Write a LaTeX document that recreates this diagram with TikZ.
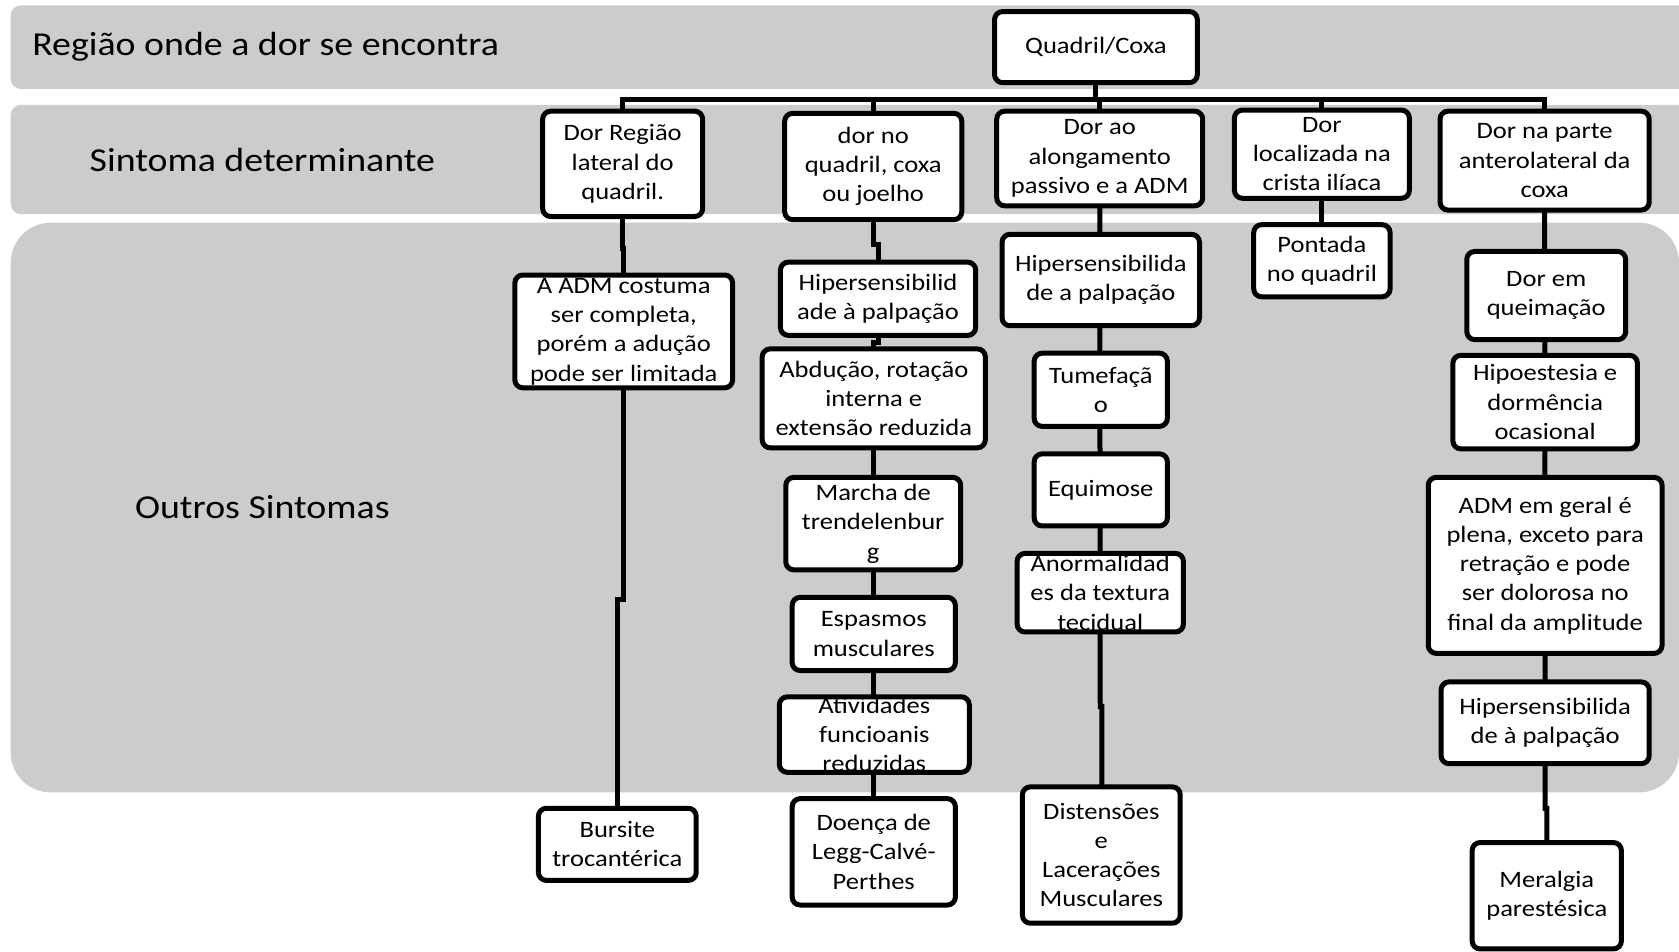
\documentclass[tikz,border=0pt]{standalone}
\usepackage{fontspec}
\setmainfont{Carlito}[FakeStretch=1.13]
\definecolor{bandgray}{RGB}{204,204,204}
% symptom box: name, left, top, right, bottom, text
\newcommand\symbox[6]{%
  \node[symptom, minimum width={(#4-#2)*1.0708pt}, minimum height={(#5-#3)*1.0708pt}]
    (#1) at ({(#2+#4)/2},{(#3+#5)/2}) {#6};
  \draw[outline] (#1.north west) rectangle (#1.south east);}
\begin{document}
\begin{tikzpicture}[x=1.0708pt,y=-1.0708pt,
  band/.style={fill=bandgray, draw=none},
  bandlabel/.style={font=\fontsize{33.5}{40}\selectfont, inner sep=0pt},
  symptom/.style={fill=white, draw=none, inner sep=0pt, align=center,
    font=\fontsize{23.5}{29.3}\selectfont},
  outline/.style={draw=black, line width=5pt, rounded corners=8pt},
  link/.style={draw=black, line width=5pt}]
\clip (0,0) rectangle (1568,889);

% background bands
\fill[band, rounded corners=10pt] (10,5) rectangle (1600,83);
\fill[band, rounded corners=10pt] (10,98) rectangle (1600,200);
\fill[band, rounded corners=40pt] (10,208) rectangle (1568,740);

\node[bandlabel, anchor=west] (l1) at (30,44) {Região onde a dor se encontra};
\node[bandlabel] (l2) at (245,149) {Sintoma determinante};
\node[bandlabel] (l3) at (245,474) {Outros Sintomas};

% connectors (drawn first, boxes cover their ends)
\coordinate (qroot) at (1023,50);
\coordinate (qbar) at (1023,93);
\coordinate (c1top) at (581,150);
\coordinate (c2top) at (815.5,150);
\coordinate (c3top) at (1027,150);
\coordinate (c4top) at (1234.5,150);
\coordinate (c5top) at (1442.5,150);
\draw[link] (qroot) -- (qbar);
\draw[link] (qbar) -| (c1top);
\draw[link] (qbar) -| (c2top);
\draw[link] (qbar) -| (c3top);
\draw[link] (qbar) -| (c4top);
\draw[link] (qbar) -| (c5top);

% column 1
\coordinate (k1a) at (581,232);
\coordinate (k1b) at (582.5,310);
\coordinate (k1c) at (582.5,560);
\coordinate (k1d) at (576.5,780);
\draw[link] (c1top) -- (k1a) -| (k1b) -- (k1c) -| (k1d);

% column 2
\coordinate (k2a) at (815.5,228);
\coordinate (k2b) at (820,280);
\coordinate (k2c) at (820,320);
\coordinate (k2d) at (816,800);
\draw[link] (c2top) -- (k2a) -| (k2b) -- (k2c) -| (k2d);

% column 3
\coordinate (k3a) at (1027.5,660);
\coordinate (k3b) at (1029,800);
\draw[link] (c3top) -- (k3a) -| (k3b);

% column 4
\coordinate (k4a) at (1234.5,240);
\draw[link] (c4top) -- (k4a);

% column 5
\coordinate (k5a) at (1443,755);
\coordinate (k5b) at (1444.5,830);
\draw[link] (c5top) -- (k5a) -| (k5b);

% boxes
\symbox{q}{929}{11}{1118}{77}{Quadril/Coxa}
\symbox{c1}{507}{104}{656}{202}{Dor Região\\lateral do\\quadril.}
\symbox{c2}{733}{106}{898}{205}{dor no\\quadril, coxa\\ou joelho}
\symbox{c3}{931}{104}{1123}{192}{Dor ao\\alongamento\\passivo e a ADM}
\symbox{c4}{1153}{103}{1316}{185}{Dor\\localizada na\\crista ilíaca}
\symbox{c5}{1345}{104}{1540}{196}{Dor na parte\\anterolateral da\\coxa}

\symbox{c1a}{481}{257}{684}{362}{A ADM costuma\\ser completa,\\porém a adução\\pode ser limitada}
\symbox{c1b}{503}{755}{650}{822}{Bursite\\trocantérica}

\symbox{c2a}{729}{245}{911}{313}{Hipersensibilid\\ade à palpação}
\symbox{c2b}{712}{326}{920}{418}{Abdução, rotação\\interna e\\extensão reduzida}
\symbox{c2c}{734}{446}{897}{532}{Marcha de\\trendelenbur\\g}
\symbox{c2d}{740}{558}{892}{626}{Espasmos\\musculares}
\symbox{c2e}{728}{652}{905}{720}{Atividades\\funcioanis\\reduzidas}
\symbox{c2f}{740}{746}{892}{845}{Doença de\\Legg-Calvé-\\Perthes}

\symbox{c3a}{936}{219}{1120}{304}{Hipersensibilida\\de a palpação}
\symbox{c3b}{966}{330}{1090}{398}{Tumefaçã\\o}
\symbox{c3c}{966}{424}{1090}{491}{Equimose}
\symbox{c3d}{950}{517}{1105}{590}{Anormalidad\\es da textura\\tecidual}
\symbox{c3e}{955}{735}{1102}{862}{Distensões\\e\\Lacerações\\Musculares}

\symbox{c4a}{1171}{210}{1298}{277}{Pontada\\no quadril}

\symbox{c5a}{1370}{235}{1518}{317}{Dor em\\queimação}
\symbox{c5b}{1357}{332}{1529}{419}{Hipoestesia e\\dormência\\ocasional}
\symbox{c5c}{1334}{446}{1552}{610}{ADM em geral é\\plena, exceto para\\retração e pode\\ser dolorosa no\\final da amplitude}
\symbox{c5d}{1346}{637}{1540}{713}{Hipersensibilida\\de à palpação}
\symbox{c5e}{1375}{787}{1514}{886}{Meralgia\\parestésica}
\end{tikzpicture}
\end{document}
